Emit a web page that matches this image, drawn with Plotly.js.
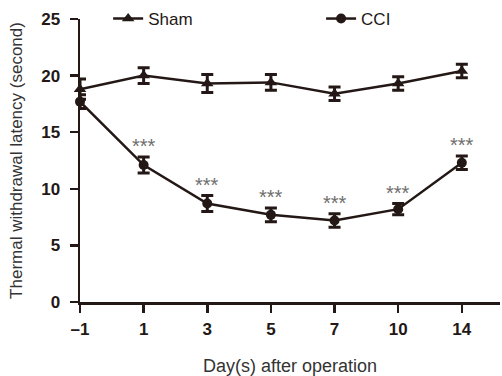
<!DOCTYPE html>
<html>
<head>
<meta charset="utf-8">
<script src="https://cdn.plot.ly/plotly-3.0.1.min.js"></script>
<style>html,body{margin:0;padding:0;background:#fff;}#chart{width:502px;height:376px;}</style>
</head>
<body>
<div id="chart"></div>
<script>
const days = ["\u20131", "1", "3", "5", "7", "10", "14"];
const shamMean = [18.8, 20.0, 19.3, 19.4, 18.4, 19.3, 20.4];
const shamErr  = [0.9, 0.7, 0.8, 0.7, 0.6, 0.6, 0.6];
const cciMean  = [17.7, 12.1, 8.7, 7.7, 7.2, 8.2, 12.3];
const cciErr   = [0.6, 0.7, 0.7, 0.6, 0.6, 0.5, 0.6];
const sigMarks = ["", "***", "***", "***", "***", "***", "***"];

const idx = days.map((d, i) => i);
const dark = "#231815";
const font = "Liberation Sans, Arial";

const traces = [
  {
    x: idx, y: shamMean, name: "Sham", type: "scatter", mode: "lines+markers",
    line: {color: dark, width: 2.5},
    marker: {symbol: "triangle-up", size: 11, color: dark},
    error_y: {type: "data", array: shamErr, visible: true, color: dark, thickness: 3, width: 6},
    cliponaxis: false, legend: "legend"
  },
  {
    x: idx, y: cciMean, name: "CCI", type: "scatter", mode: "lines+markers",
    line: {color: dark, width: 2.5},
    marker: {symbol: "circle", size: 10, color: dark},
    error_y: {type: "data", array: cciErr, visible: true, color: dark, thickness: 3, width: 6},
    cliponaxis: false, legend: "legend2"
  }
];

const annotations = sigMarks.map((t, i) => ({
  x: idx[i], y: cciMean[i] + cciErr[i], xref: "x", yref: "y",
  text: t, showarrow: false, yanchor: "bottom", yshift: -2,
  font: {family: font, size: 20, color: "#6e6e6e"}
})).filter(a => a.text);

const legendBase = {
  orientation: "h", y: 1, xanchor: "left", yanchor: "middle",
  font: {family: font, size: 17, color: dark}, bgcolor: "rgba(0,0,0,0)"
};

const layout = {
  width: 502, height: 376,
  margin: {l: 80, r: 2, t: 19, b: 74, autoexpand: false},
  paper_bgcolor: "#fff", plot_bgcolor: "#fff",
  showlegend: true,
  legend: Object.assign({}, legendBase, {x: 0.067}),
  legend2: Object.assign({}, legendBase, {x: 0.574}),
  xaxis: {
    range: [0, 6.6], tickmode: "array", tickvals: idx, ticktext: days,
    showgrid: false, zeroline: false, showline: true, linecolor: dark, linewidth: 2.5,
    ticks: "outside", ticklen: 8, tickwidth: 2.5, tickcolor: dark, ticklabelstandoff: 2,
    tickfont: {family: font, size: 17, color: dark, weight: "bold"},
    title: {text: "Day(s) after operation", font: {family: font, size: 18, color: "#333"}, standoff: 24}
  },
  yaxis: {
    range: [0, 25], tickvals: [0, 5, 10, 15, 20, 25],
    showgrid: false, zeroline: false, showline: true, linecolor: dark, linewidth: 2.5,
    ticks: "outside", ticklen: 8, tickwidth: 2.5, tickcolor: dark, ticklabelstandoff: 6,
    tickfont: {family: font, size: 17, color: dark, weight: "bold"},
    title: {text: "Thermal withdrawal latency (second)", font: {family: font, size: 17, color: "#333"}, standoff: 14}
  },
  annotations: annotations
};

Plotly.newPlot("chart", traces, layout, {displayModeBar: false, staticPlot: true});
</script>
</body>
</html>
